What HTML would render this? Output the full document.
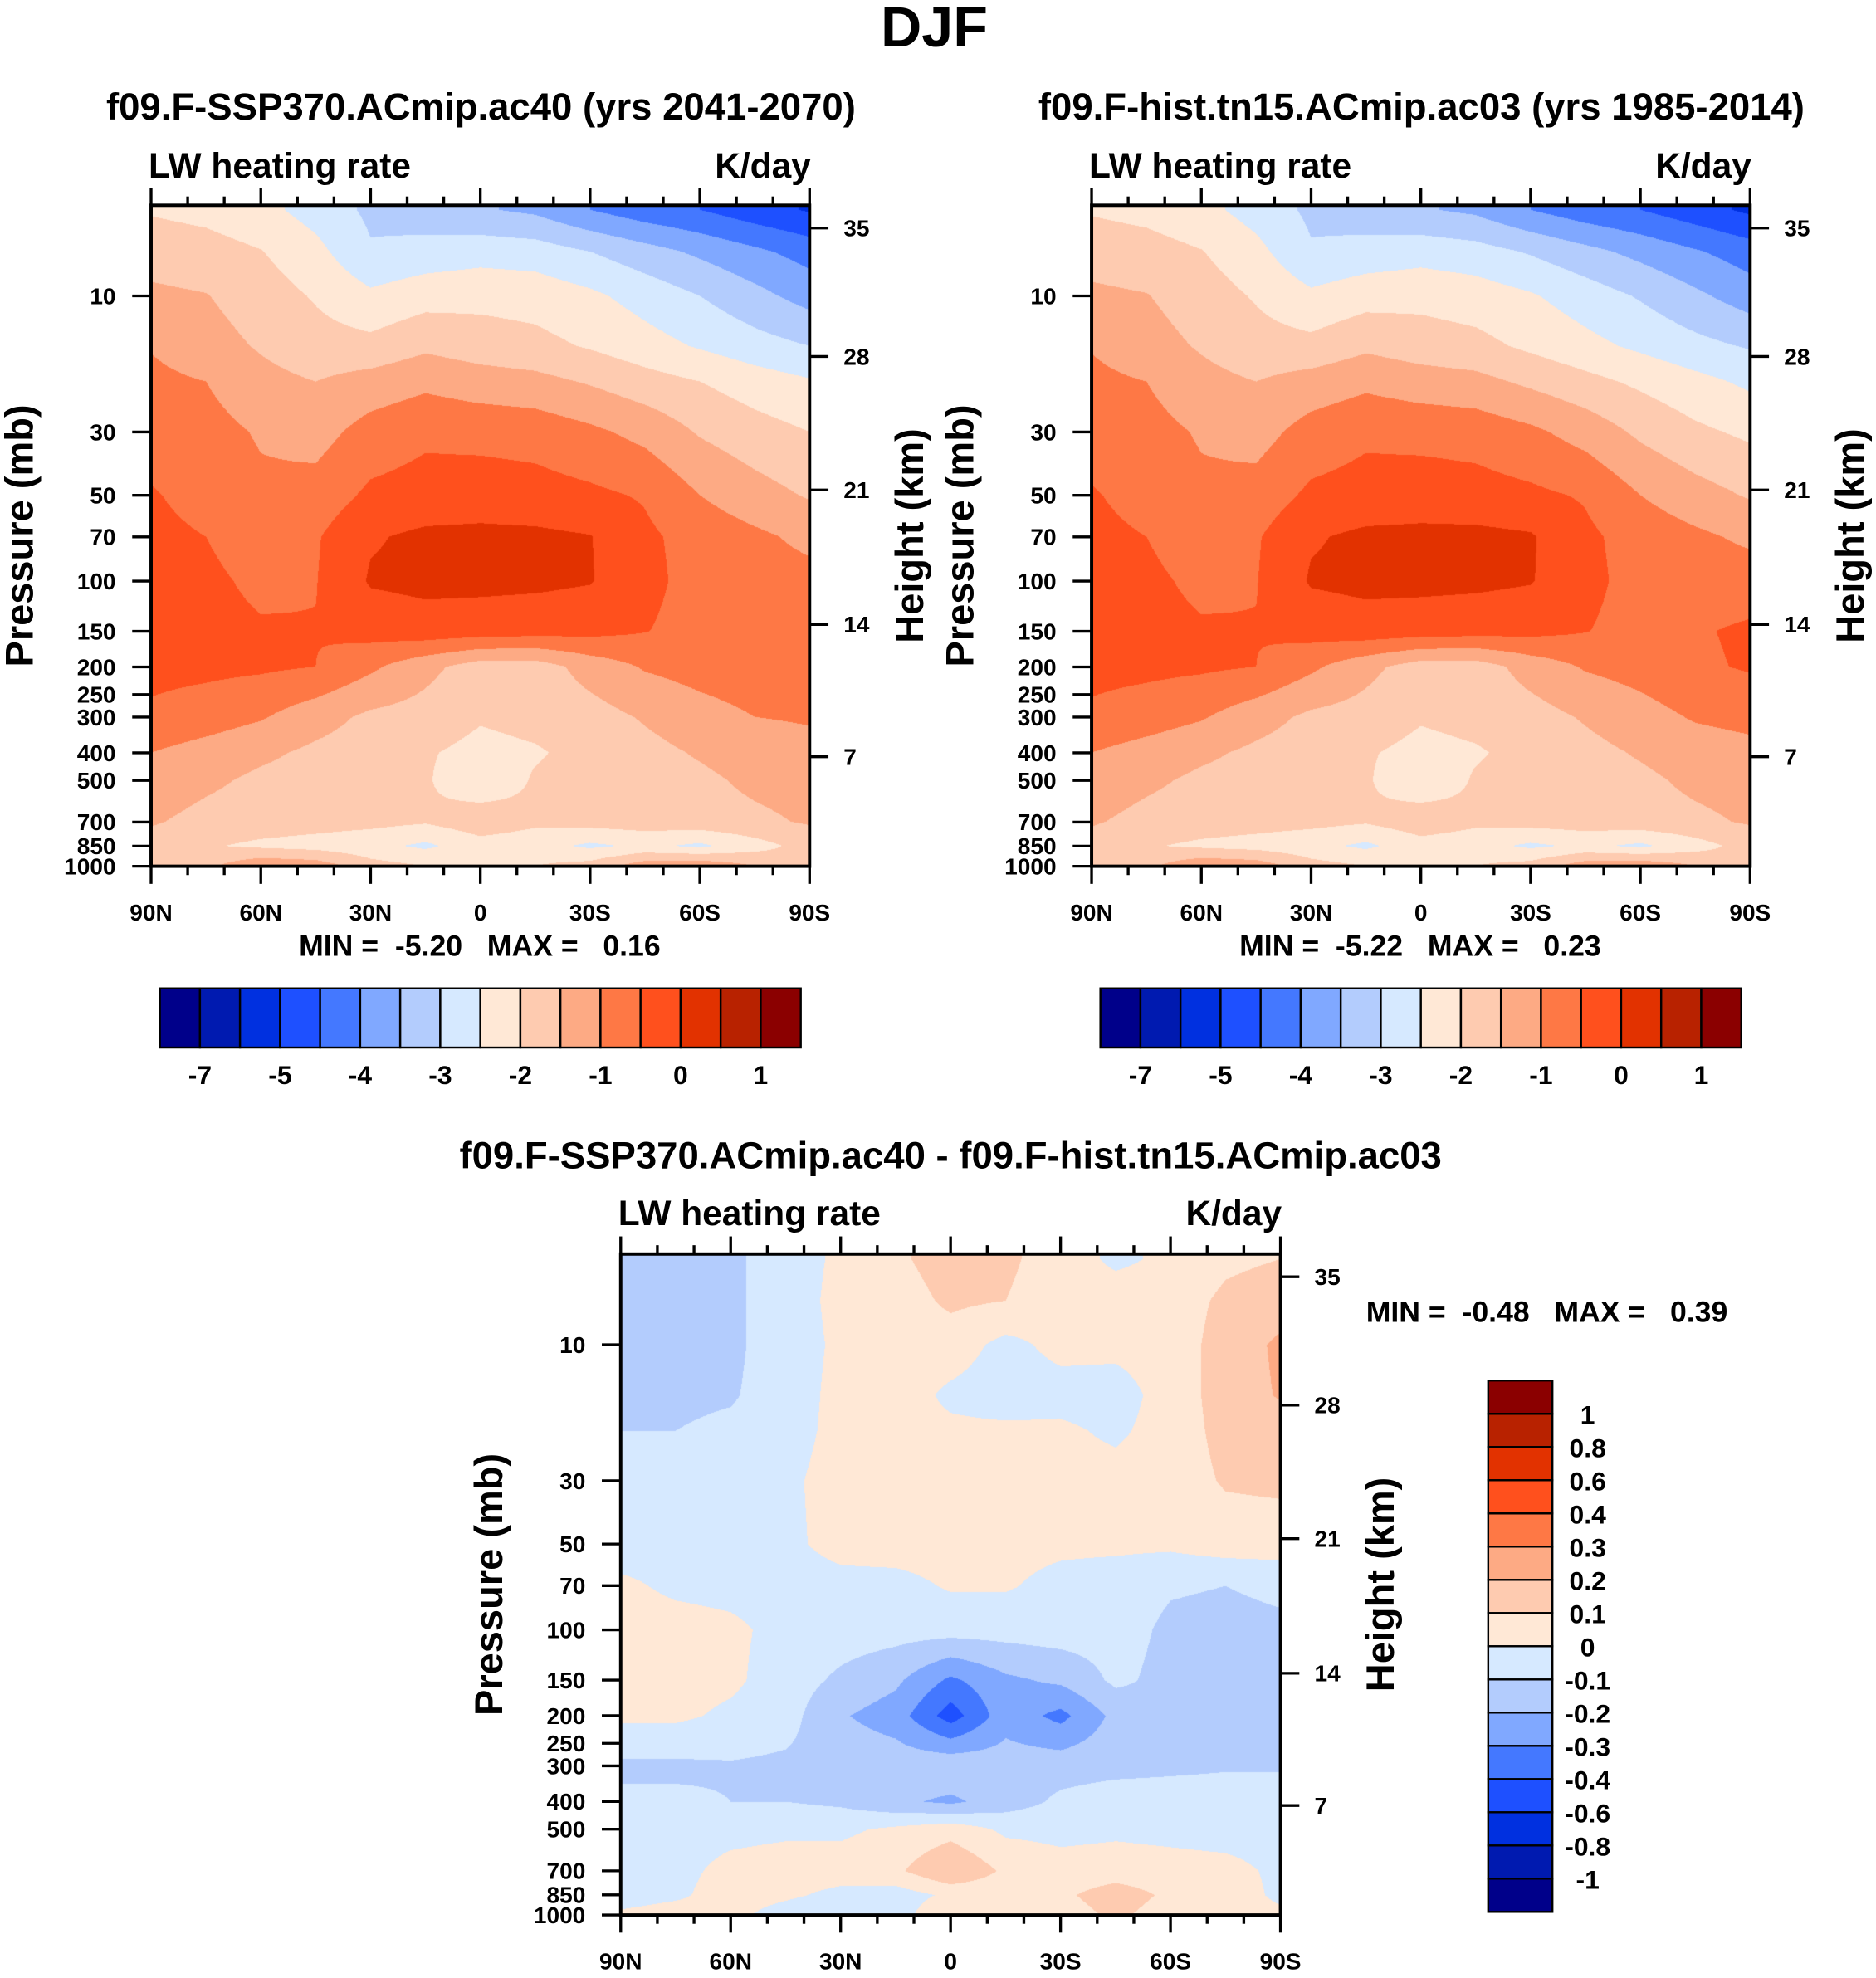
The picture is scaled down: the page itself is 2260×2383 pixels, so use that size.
<!DOCTYPE html>
<html>
<head>
<meta charset="utf-8">
<style>
html,body{margin:0;padding:0;background:#fff;}
body{width:2260px;height:2383px;position:relative;overflow:hidden;font-family:"Liberation Sans",Arial,sans-serif;}
canvas{position:absolute;}
svg{position:absolute;left:0;top:0;}
svg text{font-family:"Liberation Sans",Arial,sans-serif;font-weight:bold;fill:#000;}
</style>
</head>
<body>
<canvas id="cA"></canvas>
<canvas id="cB"></canvas>
<canvas id="cC"></canvas>
<svg id="fig" width="2260" height="2383" viewBox="0 0 1490 1571">
  <text x="742" y="37" font-size="45" text-anchor="middle">DJF</text>
  <text x="382" y="95" font-size="30" text-anchor="middle">f09.F-SSP370.ACmip.ac40 (yrs 2041-2070)</text>
  <text x="1129" y="95" font-size="30" text-anchor="middle">f09.F-hist.tn15.ACmip.ac03 (yrs 1985-2014)</text>
  <text x="755" y="928" font-size="30" text-anchor="middle">f09.F-SSP370.ACmip.ac40 - f09.F-hist.tn15.ACmip.ac03</text>
  <g id="axes"></g>
</svg>
<script>
// ---------- data ----------
const lats = [90,75,60,45,30,15,0,-15,-30,-45,-60,-75,-90];
const plevs = [5,7,10,15,20,30,50,70,100,150,200,300,400,500,700,850,1000];
const levelsAbs = [-7,-6,-5,-4.5,-4,-3.5,-3,-2.5,-2,-1.5,-1,-0.5,0,0.5,1];
const levelsDiff = [-1,-0.8,-0.6,-0.4,-0.3,-0.2,-0.1,0,0.1,0.2,0.3,0.4,0.6,0.8,1];
const labelsAbs = ["-7","-5","-4","-3","-2","-1","0","1"];
const labelsDiff = ["-1","-0.8","-0.6","-0.4","-0.3","-0.2","-0.1","0","0.1","0.2","0.3","0.4","0.6","0.8","1"];
const colors = ["#00008a","#001ab0","#0030e0","#1e50ff","#4478ff","#80a8ff","#b3ccfd","#d6e9ff","#ffe8d6","#fecbb0","#fdaa84","#fe7845","#ff501d","#e23200","#b82200","#8b0000"];
const pTicks = [10,30,50,70,100,150,200,250,300,400,500,700,850,1000];
const heightTicks = [35,28,21,14,7];
const heightTickP = [5.78,16.3,47.9,142,413];
const latMajor = [90,60,30,0,-30,-60,-90];
const latMajorLabels = ["90N","60N","30N","0","30S","60S","90S"];
const valsA = [
[-2.05,-2.15,-2.35,-2.7,-3.1,-3.3,-3.45,-3.6,-4.0,-4.3,-4.5,-4.8,-5.05],
[-1.72,-1.8,-1.98,-2.35,-2.95,-2.8,-2.7,-2.75,-3.0,-3.3,-3.6,-3.9,-4.2],
[-1.4,-1.48,-1.75,-2.05,-2.4,-2.2,-2.15,-2.2,-2.4,-2.7,-3.0,-3.35,-3.7],
[-1.03,-1.3,-1.55,-1.8,-1.85,-1.6,-1.75,-1.85,-2.05,-2.3,-2.55,-2.8,-3.0],
[-0.88,-1.0,-1.35,-1.5,-1.3,-1.12,-1.27,-1.35,-1.55,-1.8,-2.0,-2.25,-2.45],
[-0.76,-0.82,-1.05,-1.2,-0.8,-0.6,-0.65,-0.7,-0.9,-1.15,-1.55,-1.8,-2.0],
[-0.45,-0.7,-0.9,-0.8,-0.4,-0.3,-0.25,-0.3,-0.4,-0.55,-1.0,-1.3,-1.55],
[-0.35,-0.5,-0.75,-0.55,-0.05,0.1,0.12,0.1,0.02,-0.4,-0.7,-0.9,-1.12],
[-0.3,-0.4,-0.6,-0.52,0.05,0.12,0.12,0.1,0.03,-0.35,-0.7,-0.8,-0.85],
[-0.3,-0.35,-0.45,-0.48,-0.3,-0.2,-0.25,-0.3,-0.35,-0.48,-0.7,-0.72,-0.68],
[-0.35,-0.38,-0.42,-0.5,-0.9,-1.35,-1.75,-1.75,-1.3,-0.95,-0.8,-0.7,-0.65],
[-0.6,-0.75,-0.95,-1.3,-1.6,-1.7,-1.95,-1.85,-1.7,-1.45,-1.2,-1.0,-0.95],
[-1.0,-1.2,-1.4,-1.6,-1.75,-1.95,-2.15,-2.05,-1.85,-1.65,-1.45,-1.25,-1.15],
[-1.2,-1.4,-1.6,-1.7,-1.75,-1.95,-2.35,-1.95,-1.8,-1.7,-1.6,-1.4,-1.3],
[-1.45,-1.65,-1.75,-1.8,-1.85,-1.95,-1.7,-1.9,-1.8,-1.75,-1.7,-1.6,-1.45],
[-1.7,-1.95,-2.1,-2.2,-2.35,-2.6,-2.2,-2.3,-2.6,-2.4,-2.6,-2.2,-1.8],
[-1.8,-1.6,-1.1,-1.2,-1.8,-2.0,-2.0,-2.0,-1.8,-1.2,-1.1,-1.5,-2.0]];
const valsB = [
[-2.05,-2.15,-2.35,-2.7,-3.1,-3.3,-3.45,-3.6,-4.0,-4.3,-4.5,-4.8,-5.1],
[-1.72,-1.8,-1.98,-2.35,-2.95,-2.8,-2.7,-2.8,-3.05,-3.35,-3.65,-3.95,-4.25],
[-1.4,-1.48,-1.75,-2.05,-2.4,-2.2,-2.15,-2.25,-2.45,-2.75,-3.05,-3.4,-3.75],
[-1.03,-1.3,-1.55,-1.8,-1.85,-1.6,-1.75,-1.85,-2.1,-2.35,-2.6,-2.85,-3.05],
[-0.88,-1.0,-1.35,-1.5,-1.3,-1.12,-1.27,-1.35,-1.6,-1.85,-2.1,-2.35,-2.6],
[-0.76,-0.82,-1.05,-1.2,-0.8,-0.6,-0.65,-0.7,-0.9,-1.2,-1.6,-1.9,-2.1],
[-0.45,-0.7,-0.9,-0.8,-0.4,-0.3,-0.25,-0.3,-0.4,-0.55,-1.0,-1.3,-1.55],
[-0.35,-0.5,-0.75,-0.55,-0.05,0.1,0.12,0.12,0.05,-0.4,-0.7,-0.9,-1.1],
[-0.3,-0.4,-0.6,-0.52,0.05,0.12,0.12,0.1,0.03,-0.35,-0.7,-0.75,-0.75],
[-0.3,-0.35,-0.45,-0.48,-0.3,-0.2,-0.25,-0.3,-0.35,-0.48,-0.7,-0.55,-0.42],
[-0.35,-0.38,-0.42,-0.5,-0.9,-1.35,-1.75,-1.75,-1.3,-0.95,-0.8,-0.58,-0.45],
[-0.6,-0.75,-0.95,-1.3,-1.6,-1.7,-1.95,-1.85,-1.7,-1.45,-1.2,-0.95,-0.85],
[-1.0,-1.2,-1.4,-1.6,-1.75,-1.95,-2.15,-2.05,-1.85,-1.65,-1.45,-1.25,-1.15],
[-1.2,-1.4,-1.6,-1.7,-1.75,-1.95,-2.35,-1.95,-1.8,-1.7,-1.6,-1.4,-1.3],
[-1.45,-1.65,-1.75,-1.8,-1.85,-1.95,-1.7,-1.9,-1.8,-1.75,-1.7,-1.6,-1.45],
[-1.7,-1.95,-2.1,-2.2,-2.35,-2.6,-2.2,-2.3,-2.6,-2.4,-2.6,-2.2,-1.8],
[-1.8,-1.6,-1.1,-1.2,-1.8,-2.0,-2.0,-2.0,-1.8,-1.2,-1.1,-1.5,-2.0]];
const valsC = [
[-0.15,-0.15,-0.12,-0.05,0.02,0.08,0.15,0.12,0.05,-0.02,0.02,0.08,0.1],
[-0.15,-0.15,-0.12,-0.05,0.03,0.05,0.12,0.1,0.04,0.05,0.05,0.12,0.15],
[-0.15,-0.15,-0.12,-0.05,0.02,0.05,0.05,-0.03,0.03,0.03,0.05,0.14,0.22],
[-0.13,-0.12,-0.11,-0.05,0.03,0.05,-0.02,-0.05,-0.04,-0.05,0.05,0.14,0.21],
[-0.1,-0.1,-0.08,-0.04,0.03,0.03,0.02,0.02,0.02,-0.02,0.05,0.13,0.15],
[-0.05,-0.04,-0.04,-0.02,0.04,0.05,0.04,0.05,0.04,0.04,0.05,0.11,0.12],
[-0.05,-0.04,-0.04,-0.02,0.03,0.04,0.04,0.03,0.02,0.02,0.02,0.05,0.05],
[0.02,-0.02,-0.03,-0.04,-0.03,-0.03,0.01,0.01,-0.03,-0.05,-0.09,-0.1,-0.08],
[0.05,0.04,0.02,-0.03,-0.05,-0.06,-0.06,-0.06,-0.05,-0.06,-0.12,-0.13,-0.12],
[0.04,0.04,0.02,-0.05,-0.12,-0.18,-0.32,-0.22,-0.18,-0.08,-0.13,-0.13,-0.12],
[0.02,0.02,-0.02,-0.06,-0.19,-0.25,-0.45,-0.24,-0.33,-0.17,-0.11,-0.1,-0.1],
[-0.12,-0.12,-0.11,-0.12,-0.13,-0.14,-0.12,-0.15,-0.14,-0.13,-0.12,-0.11,-0.11],
[-0.08,-0.08,-0.1,-0.1,-0.12,-0.18,-0.22,-0.15,-0.08,-0.05,-0.05,-0.05,-0.05],
[-0.05,-0.04,-0.03,-0.02,-0.02,0.02,0.06,-0.02,-0.03,-0.02,-0.03,-0.04,-0.04],
[-0.04,-0.03,0.03,0.05,0.05,0.08,0.2,0.08,0.04,0.05,0.04,0.03,-0.02],
[-0.05,-0.02,0.05,0.02,-0.03,-0.05,0.02,0.03,0.08,0.15,0.08,0.05,-0.02],
[0.02,0.05,0.03,-0.05,-0.1,-0.05,0.1,0.05,0.05,0.12,0.05,0.05,0.02]];

// ---------- layout ----------
const S = 2260/1490;
const NS = "http://www.w3.org/2000/svg";
const panels = [
  {id:"a", x0:120, y0:163, x1:643, y1:688, vals:valsA, levels:levelsAbs, canvas:"cA"},
  {id:"b", x0:867, y0:163, x1:1390, y1:688, vals:valsB, levels:levelsAbs, canvas:"cB"},
  {id:"c", x0:493, y0:996, x1:1017, y1:1521, vals:valsC, levels:levelsDiff, canvas:"cC"}
];
function xScale(P, lat){ return P.x0 + (90 - lat)/180*(P.x1-P.x0); }
function yScale(P, p){ return P.y1 - (3 - Math.log10(p))*226.5; }
const axes = document.getElementById("axes");
function mk(tag, attrs, parent){
  const e = document.createElementNS(NS, tag);
  for (const k in attrs) e.setAttribute(k, attrs[k]);
  (parent||axes).appendChild(e);
  return e;
}
function colorIndex(v, levels){ let i=0; while(i<levels.length && v>=levels[i]) i++; return i; }
function hexToRgb(h){ return [parseInt(h.substr(1,2),16),parseInt(h.substr(3,2),16),parseInt(h.substr(5,2),16)]; }
const rgbs = colors.map(hexToRgb);
const logLev = plevs.map(p=>Math.log10(p));

function drawField(P){
  const cv = document.getElementById(P.canvas);
  const W = Math.round((P.x1-P.x0)*S), H = Math.round((P.y1-P.y0)*S);
  cv.width = W; cv.height = H;
  cv.style.left = (P.x0*S)+"px"; cv.style.top = (P.y0*S)+"px";
  cv.style.width = W+"px"; cv.style.height = H+"px";
  const ctx = cv.getContext("2d");
  const img = ctx.createImageData(W,H);
  const nc = lats.length;
  for (let py=0; py<H; py++){
    const yd = P.y0 + (py+0.5)/S;
    let lp = 3 - (P.y1 - yd)/226.5;
    if (lp < logLev[0]) lp = logLev[0];
    let r = 0; while (r < logLev.length-2 && lp > logLev[r+1]) r++;
    const fy = Math.min(1, Math.max(0, (lp - logLev[r])/(logLev[r+1]-logLev[r])));
    for (let px=0; px<W; px++){
      const xd = P.x0 + (px+0.5)/S;
      const lat = 90 - (xd-P.x0)/(P.x1-P.x0)*180;
      let ci = (90-lat)/15; if (ci<0) ci=0; if (ci>nc-1) ci=nc-1;
      let c = Math.floor(ci); if (c>nc-2) c=nc-2;
      const fx = ci - c;
      const v = (P.vals[r][c]*(1-fx) + P.vals[r][c+1]*fx)*(1-fy) + (P.vals[r+1][c]*(1-fx) + P.vals[r+1][c+1]*fx)*fy;
      const col = rgbs[colorIndex(v, P.levels)];
      const k = (py*W+px)*4;
      img.data[k]=col[0]; img.data[k+1]=col[1]; img.data[k+2]=col[2]; img.data[k+3]=255;
    }
  }
  ctx.putImageData(img,0,0);
}

function drawAxes(P, titleY, xLabY){
  const g = mk("g", {});
  
  
  const t1 = mk("text", {x:P.x0-2, y:titleY, "font-size":28}, g);
  t1.textContent = "LW heating rate";
  
  
  const t2 = mk("text", {x:P.x1+1, y:titleY, "font-size":28, "text-anchor":"end"}, g);
  t2.textContent = "K/day";
  
  
  pTicks.forEach(p=>{
    const y = yScale(P,p);
    const tk = mk("line", {x1:P.x0-15, x2:P.x0, y1:y, y2:y, stroke:"#000", "stroke-width":2.2}, g);
    
    
    const tl = mk("text", {x:P.x0-28, y:y+6.5, "font-size":18.5, "text-anchor":"end"}, g);
    tl.textContent = String(p);
    
    
  });
  heightTicks.forEach((h,i)=>{
    const y = yScale(P, heightTickP[i]);
    const tk = mk("line", {x1:P.x1, x2:P.x1+15, y1:y, y2:y, stroke:"#000", "stroke-width":2.2}, g);
    
    
    const tl = mk("text", {x:P.x1+27, y:y+6.5, "font-size":18.5}, g);
    tl.textContent = String(h);
    
    
  });
  for (let lat=90; lat>=-90; lat-=10){
    const x = xScale(P,lat);
    const major = (lat%30===0);
    const L = major?14:7;
    const tb = mk("line", {x1:x, x2:x, y1:P.y1, y2:P.y1+L, stroke:"#000", "stroke-width":2.2}, g);
    
    
    const tt = mk("line", {x1:x, x2:x, y1:P.y0, y2:P.y0-L, stroke:"#000", "stroke-width":2.2}, g);
    
    
  }
  latMajor.forEach((lat,i)=>{
    const tl = mk("text", {x:xScale(P,lat), y:xLabY, "font-size":18.5, "text-anchor":"middle"}, g);
    tl.textContent = latMajorLabels[i];
    
    
  });
  const fr = mk("rect", {x:P.x0, y:P.y0, width:P.x1-P.x0, height:P.y1-P.y0, fill:"none", stroke:"#000", "stroke-width":2.6}, g);
  
  
  const cy = (P.y0+P.y1)/2;
  const yl = mk("text", {x:P.x0-105, y:cy, "font-size":31, "text-anchor":"middle", transform:"rotate(-90 "+(P.x0-105)+" "+cy+")", dy:"11"}, g);
  yl.textContent = "Pressure (mb)";
  
  
  const hl = mk("text", {x:P.x1+79, y:cy, "font-size":31, "text-anchor":"middle", transform:"rotate(-90 "+(P.x1+79)+" "+cy+")", dy:"11"}, g);
  hl.textContent = "Height (km)";
  
  
}

function hColorbar(x0, y0, w, h, name){
  const g = mk("g", {});
  
  
  const bw = w/colors.length;
  colors.forEach((c,i)=>{
    const r = mk("rect", {x:x0+i*bw, y:y0, width:bw, height:h, fill:c, stroke:"#000", "stroke-width":1.6}, g);
    
    
  });
  labelsAbs.forEach((lab,i)=>{
    const t = mk("text", {x:x0+(2*i+1)*bw, y:y0+h+29, "font-size":21, "text-anchor":"middle"}, g);
    t.textContent = lab;
    
    
  });
}
function vColorbar(x0, y0, w, h, name){
  const g = mk("g", {});
  
  
  const bh = h/colors.length;
  colors.forEach((c,i)=>{
    const r = mk("rect", {x:x0, y:y0+(colors.length-1-i)*bh, width:w, height:bh, fill:c, stroke:"#000", "stroke-width":1.6}, g);
    
    
  });
  labelsDiff.forEach((lab,i)=>{
    const y = y0 + (colors.length-1-i)*bh;
    const t = mk("text", {x:x0+79, y:y+8, "font-size":21, "text-anchor":"middle"}, g);
    t.textContent = lab;
    
    
  });
}

panels.forEach(drawField);
drawAxes(panels[0], 141, 731);
drawAxes(panels[1], 141, 731);
drawAxes(panels[2], 973, 1564);
hColorbar(127, 785, 509, 47, "colorbar-a");
hColorbar(874, 785, 509, 47, "colorbar-b");
vColorbar(1182, 1096.5, 51, 422, "colorbar-diff");

const mm = [
  {x:381, y:759, a:"middle", t:"MIN =  -5.20   MAX =   0.16", n:"panel-a-minmax"},
  {x:1128, y:759, a:"middle", t:"MIN =  -5.22   MAX =   0.23", n:"panel-b-minmax"},
  {x:1085, y:1050, a:"start", t:"MIN =  -0.48   MAX =   0.39", n:"panel-c-minmax"}
];
mm.forEach(m=>{
  const t = mk("text", {x:m.x, y:m.y, "font-size":23.5, "text-anchor":m.a, "xml:space":"preserve", style:"white-space:pre"});
  t.textContent = m.t;
  
  
});
</script>
</body>
</html>
